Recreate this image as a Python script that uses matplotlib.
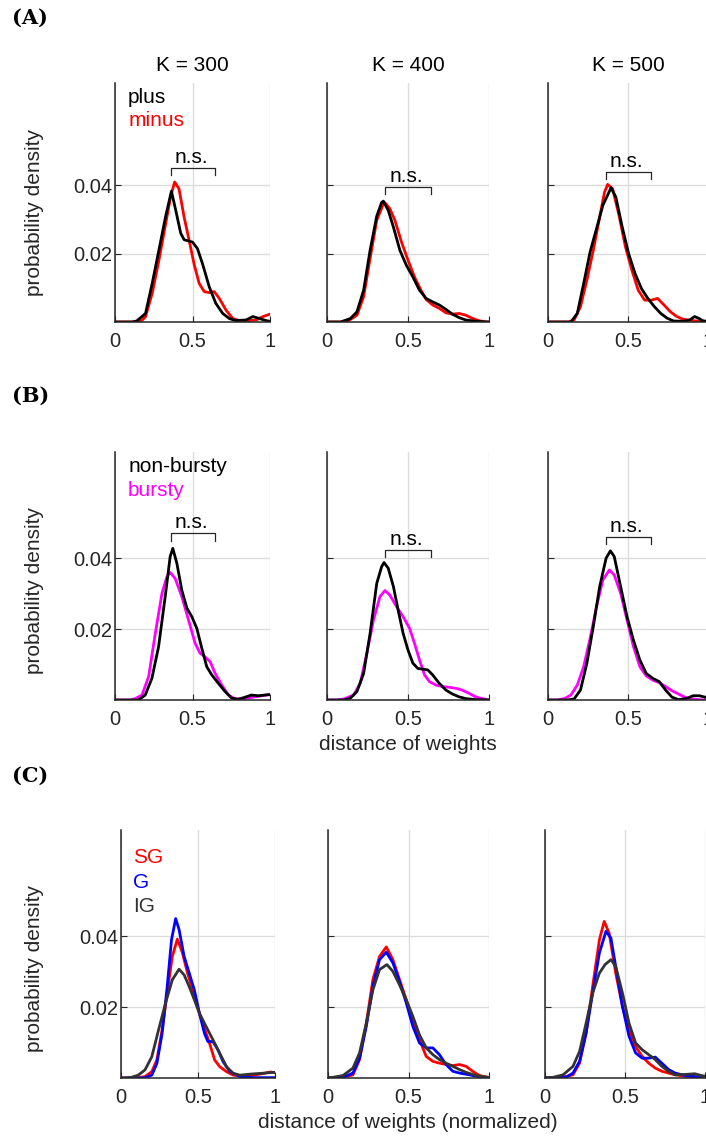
import matplotlib
matplotlib.use("Agg")
import matplotlib.pyplot as plt

plt.rcParams['font.family'] = ['Liberation Sans', 'DejaVu Sans']

# ---- data (distance, density) ----
a1_plus_x = [0, 0.11, 0.14, 0.197, 0.24, 0.283, 0.327, 0.364, 0.392, 0.424, 0.446, 0.5, 0.532, 0.565, 0.608, 0.65, 0.695, 0.738, 0.78, 0.846, 0.89, 0.933, 0.976, 1.0]
a1_plus_y = [0, 0, 0.0003, 0.0025, 0.0113, 0.021, 0.031, 0.0383, 0.0327, 0.026, 0.0241, 0.0234, 0.0215, 0.017, 0.0103, 0.0055, 0.0025, 0.001, 0.0004, 0.0006, 0.0016, 0.001, 0.0004, 0.0002]
a1_minus_x = [0, 0.14, 0.175, 0.197, 0.24, 0.283, 0.327, 0.36, 0.385, 0.413, 0.446, 0.478, 0.51, 0.543, 0.576, 0.608, 0.64, 0.673, 0.716, 0.76, 0.803, 0.846, 0.91, 0.955, 1.0]
a1_minus_y = [0, 0, 0.0005, 0.0016, 0.0084, 0.018, 0.0288, 0.037, 0.041, 0.039, 0.0307, 0.024, 0.017, 0.0113, 0.0089, 0.0086, 0.0089, 0.0069, 0.0035, 0.001, 0.0004, 0.0003, 0.0006, 0.0016, 0.0023]

a2_plus_x = [0, 0.083, 0.144, 0.185, 0.226, 0.266, 0.307, 0.337, 0.348, 0.378, 0.41, 0.45, 0.49, 0.53, 0.571, 0.612, 0.652, 0.693, 0.734, 0.774, 0.815, 0.856, 0.917, 1.0]
a2_plus_y = [0, 0, 0.001, 0.003, 0.0093, 0.021, 0.031, 0.035, 0.0354, 0.0327, 0.0278, 0.021, 0.0166, 0.0132, 0.0093, 0.0069, 0.0059, 0.005, 0.0037, 0.0023, 0.0013, 0.0006, 0.0002, 0]
a2_minus_x = [0, 0.12, 0.185, 0.226, 0.266, 0.307, 0.348, 0.358, 0.388, 0.419, 0.46, 0.5, 0.54, 0.58, 0.612, 0.652, 0.693, 0.734, 0.774, 0.815, 0.856, 0.896, 0.937, 0.978, 1.0]
a2_minus_y = [0, 0, 0.002, 0.0074, 0.0186, 0.0298, 0.0346, 0.0349, 0.0332, 0.0298, 0.0234, 0.0181, 0.0132, 0.0093, 0.0066, 0.005, 0.004, 0.0027, 0.0023, 0.0025, 0.002, 0.0011, 0.0004, 0, 0]

a3_plus_x = [0, 0.143, 0.183, 0.223, 0.263, 0.303, 0.343, 0.394, 0.424, 0.464, 0.504, 0.544, 0.584, 0.624, 0.665, 0.705, 0.745, 0.785, 0.845, 0.886, 0.916, 0.946, 0.966, 1.0]
a3_plus_y = [0, 0, 0.0025, 0.0113, 0.0205, 0.0273, 0.0342, 0.0393, 0.0366, 0.0278, 0.02, 0.0142, 0.0098, 0.0069, 0.0045, 0.0025, 0.0011, 0.0003, 0.0002, 0.0006, 0.0016, 0.001, 0.0004, 0.0001]
a3_minus_x = [0, 0.13, 0.163, 0.203, 0.243, 0.283, 0.323, 0.353, 0.373, 0.404, 0.444, 0.484, 0.524, 0.564, 0.604, 0.645, 0.685, 0.725, 0.765, 0.805, 0.845, 0.906, 0.95, 1.0]
a3_minus_y = [0, 0, 0.0006, 0.0045, 0.0123, 0.021, 0.0307, 0.038, 0.0403, 0.039, 0.0312, 0.022, 0.0152, 0.0093, 0.0064, 0.0064, 0.0069, 0.005, 0.003, 0.0016, 0.0008, 0.0004, 0.0002, 0.0001]

b1_non_x = [0, 0.152, 0.195, 0.238, 0.281, 0.324, 0.356, 0.373, 0.399, 0.431, 0.464, 0.496, 0.528, 0.56, 0.592, 0.624, 0.667, 0.71, 0.753, 0.796, 0.84, 0.88, 0.925, 0.99, 1.0]
b1_non_y = [0, 0, 0.0014, 0.0061, 0.015, 0.0292, 0.0405, 0.0428, 0.0386, 0.031, 0.0259, 0.0235, 0.0202, 0.0146, 0.0094, 0.0071, 0.0047, 0.0024, 0.0005, 0.0002, 0.0008, 0.0014, 0.0012, 0.0015, 0.0015]
b1_burst_x = [0, 0.1, 0.13, 0.174, 0.217, 0.26, 0.303, 0.335, 0.356, 0.388, 0.431, 0.474, 0.517, 0.549, 0.58, 0.614, 0.646, 0.689, 0.732, 0.775, 0.84, 0.903, 0.99, 1.0]
b1_burst_y = [0, 0, 0.0004, 0.0014, 0.0066, 0.0188, 0.0301, 0.0348, 0.036, 0.0343, 0.0292, 0.0226, 0.016, 0.0132, 0.0122, 0.0108, 0.0075, 0.0042, 0.0014, 0.0003, 0.0004, 0.0009, 0.0015, 0.0015]

b2_non_x = [0, 0.1, 0.144, 0.185, 0.226, 0.266, 0.307, 0.337, 0.352, 0.378, 0.41, 0.439, 0.47, 0.5, 0.53, 0.561, 0.591, 0.622, 0.652, 0.693, 0.734, 0.774, 0.815, 0.856, 0.917, 1.0]
b2_non_y = [0, 0, 0.0005, 0.0024, 0.0075, 0.0188, 0.0329, 0.0376, 0.0388, 0.0372, 0.032, 0.0254, 0.0188, 0.0141, 0.0104, 0.0089, 0.0087, 0.0085, 0.0071, 0.0047, 0.0028, 0.0017, 0.0009, 0.0004, 0.0001, 0]
b2_burst_x = [0, 0.06, 0.104, 0.165, 0.205, 0.246, 0.287, 0.327, 0.358, 0.388, 0.43, 0.47, 0.51, 0.54, 0.571, 0.602, 0.632, 0.673, 0.713, 0.754, 0.795, 0.835, 0.876, 0.917, 0.967, 1.0]
b2_burst_y = [0, 0, 0.0003, 0.0014, 0.0047, 0.0132, 0.0226, 0.0292, 0.0309, 0.0296, 0.0263, 0.0235, 0.0202, 0.016, 0.0113, 0.0071, 0.0052, 0.0042, 0.0038, 0.0036, 0.0033, 0.0028, 0.0019, 0.0009, 0.0003, 0]

b3_non_x = [0, 0.12, 0.163, 0.203, 0.243, 0.283, 0.323, 0.363, 0.39, 0.414, 0.454, 0.494, 0.534, 0.574, 0.614, 0.655, 0.695, 0.735, 0.775, 0.815, 0.866, 0.906, 0.946, 1.0]
b3_non_y = [0, 0, 0.0003, 0.0028, 0.0104, 0.0207, 0.032, 0.04, 0.0421, 0.0405, 0.032, 0.0235, 0.0169, 0.0113, 0.0075, 0.0061, 0.0052, 0.0028, 0.0008, 0.0001, 0.0004, 0.0012, 0.0012, 0.0006]
b3_burst_x = [0, 0.06, 0.102, 0.143, 0.183, 0.223, 0.263, 0.303, 0.343, 0.384, 0.414, 0.454, 0.494, 0.534, 0.574, 0.614, 0.655, 0.695, 0.735, 0.775, 0.815, 0.855, 0.906, 0.946, 1.0]
b3_burst_y = [0, 0, 0.0004, 0.0014, 0.0042, 0.0094, 0.0174, 0.0263, 0.0339, 0.0367, 0.0353, 0.0301, 0.0226, 0.0151, 0.0094, 0.0068, 0.0056, 0.0049, 0.0038, 0.0026, 0.0017, 0.0008, 0.0003, 0.0001, 0]

c1_sg_x = [0, 0.1, 0.156, 0.2, 0.233, 0.267, 0.3, 0.333, 0.366, 0.399, 0.432, 0.465, 0.509, 0.542, 0.575, 0.608, 0.641, 0.685, 0.729, 0.795, 0.861, 0.927, 0.971, 1.0]
c1_sg_y = [0, 0, 0.0004, 0.0018, 0.0051, 0.0136, 0.024, 0.0343, 0.0392, 0.0353, 0.0296, 0.0249, 0.0183, 0.014, 0.0098, 0.0051, 0.0032, 0.0018, 0.0008, 0.0006, 0.0008, 0.0013, 0.0017, 0.0015]
c1_g_x = [0, 0.12, 0.156, 0.2, 0.233, 0.267, 0.3, 0.328, 0.355, 0.377, 0.41, 0.443, 0.476, 0.509, 0.542, 0.564, 0.597, 0.63, 0.663, 0.707, 0.773, 0.861, 1.0]
c1_g_y = [0, 0, 0.0001, 0.0008, 0.0041, 0.0126, 0.0258, 0.039, 0.045, 0.0419, 0.0343, 0.0296, 0.0249, 0.0183, 0.0126, 0.0103, 0.0103, 0.0079, 0.0046, 0.0018, 0.0004, 0.0001, 0.0001]
c1_ig_x = [0, 0.03, 0.068, 0.112, 0.156, 0.2, 0.244, 0.289, 0.333, 0.377, 0.41, 0.443, 0.476, 0.509, 0.553, 0.597, 0.641, 0.685, 0.729, 0.773, 0.839, 0.905, 0.993, 1.0]
c1_ig_y = [0, 0, 0.0002, 0.0008, 0.0023, 0.006, 0.0136, 0.0211, 0.0277, 0.0307, 0.0291, 0.0258, 0.0221, 0.0183, 0.0145, 0.0108, 0.007, 0.0032, 0.0013, 0.0008, 0.0011, 0.0013, 0.0016, 0.0016]

c2_sg_x = [0, 0.093, 0.155, 0.196, 0.238, 0.279, 0.32, 0.362, 0.403, 0.444, 0.486, 0.527, 0.568, 0.61, 0.651, 0.692, 0.733, 0.775, 0.816, 0.857, 0.899, 0.94, 0.992, 1.0]
c2_sg_y = [0, 0.0002, 0.0009, 0.0052, 0.0155, 0.0278, 0.0343, 0.037, 0.0334, 0.0278, 0.0221, 0.0155, 0.0108, 0.0061, 0.0047, 0.0042, 0.0038, 0.0035, 0.0038, 0.0033, 0.0019, 0.0007, 0.0002, 0]
c2_g_x = [0, 0.093, 0.155, 0.196, 0.238, 0.279, 0.32, 0.362, 0.403, 0.444, 0.486, 0.527, 0.568, 0.61, 0.651, 0.692, 0.733, 0.775, 0.816, 0.878, 0.94, 1.0]
c2_g_y = [0, 0.0002, 0.0014, 0.0056, 0.0146, 0.0259, 0.0334, 0.0355, 0.0325, 0.0273, 0.0212, 0.0146, 0.0099, 0.0085, 0.0085, 0.0066, 0.0038, 0.0019, 0.0014, 0.0009, 0.0003, 0]
c2_ig_x = [0, 0.031, 0.093, 0.155, 0.196, 0.238, 0.279, 0.32, 0.366, 0.403, 0.444, 0.486, 0.527, 0.568, 0.61, 0.651, 0.692, 0.733, 0.775, 0.816, 0.857, 0.919, 0.992, 1.0]
c2_ig_y = [0, 0.0002, 0.0007, 0.0028, 0.0071, 0.0155, 0.0249, 0.0306, 0.032, 0.0301, 0.0263, 0.0221, 0.0174, 0.0122, 0.0085, 0.0066, 0.0052, 0.0042, 0.0033, 0.0024, 0.0016, 0.0007, 0.0002, 0.0001]

c3_sg_x = [0, 0.113, 0.175, 0.216, 0.257, 0.298, 0.34, 0.37, 0.401, 0.442, 0.484, 0.525, 0.566, 0.607, 0.648, 0.689, 0.73, 0.772, 0.813, 0.874, 0.957, 1.0]
c3_sg_y = [0, 0.0002, 0.0009, 0.0042, 0.0127, 0.0259, 0.039, 0.0442, 0.0409, 0.0296, 0.0202, 0.0136, 0.0089, 0.0061, 0.0042, 0.0028, 0.0019, 0.0014, 0.0009, 0.0005, 0.0002, 0.0001]
c3_g_x = [0, 0.134, 0.175, 0.216, 0.257, 0.298, 0.34, 0.381, 0.412, 0.442, 0.484, 0.525, 0.566, 0.607, 0.648, 0.689, 0.73, 0.772, 0.813, 0.874, 0.957, 1.0]
c3_g_y = [0, 0.0003, 0.0014, 0.0047, 0.0127, 0.024, 0.0353, 0.0414, 0.0395, 0.0315, 0.0202, 0.0118, 0.0071, 0.0056, 0.0056, 0.0059, 0.0042, 0.0024, 0.0014, 0.0007, 0.0003, 0.0001]
c3_ig_x = [0, 0.051, 0.113, 0.175, 0.216, 0.257, 0.298, 0.34, 0.375, 0.412, 0.442, 0.484, 0.525, 0.566, 0.607, 0.648, 0.689, 0.73, 0.772, 0.813, 0.874, 0.936, 0.977, 1.0]
c3_ig_y = [0, 0.0002, 0.0009, 0.0033, 0.0075, 0.0155, 0.024, 0.0296, 0.032, 0.0334, 0.0315, 0.024, 0.0155, 0.0099, 0.008, 0.0066, 0.0052, 0.0033, 0.0019, 0.0009, 0.001, 0.0012, 0.0007, 0.0005]

k_titles = ['K = 300', 'K = 400', 'K = 500']
row_a_bracket = [0.045, 0.0394, 0.0439]
row_b_bracket = [0.047, 0.0423, 0.0459]
bracket_span = [0.36, 0.645]

# ---- layout helpers (pixels of the 706x1138 canvas) ----
W, H = 706, 1138
fig = plt.figure(figsize=(W / 100, H / 100), dpi=100)

dark = '#262626'


def make_ax(left, top, width, height, ylabels=True):
    ax = fig.add_axes([left / W, 1 - (top + height) / H, width / W, height / H])
    ax.set_xlim(0, 1.0)
    ax.set_ylim(0, 0.07)
    ax.set_xticks([0, 0.5, 1])
    ax.set_xticklabels(['0', '0.5', '1'])
    ax.set_yticks([0.02, 0.04])
    ax.set_yticklabels(['0.02', '0.04'] if ylabels else [])
    for s in ['top', 'right']:
        ax.spines[s].set_visible(False)
    for s in ['left', 'bottom']:
        ax.spines[s].set_color(dark)
        ax.spines[s].set_linewidth(1.1)
    ax.tick_params(direction='in', length=4, width=0.8, color=dark,
                   labelcolor=dark, labelsize=14.5)
    ax.tick_params(axis='x', pad=7)
    ax.tick_params(axis='y', pad=2)
    ax.grid(True, color='#dcdcdc', linewidth=1.0)
    ax.set_axisbelow(True)
    return ax


def bracket(ax, y):
    x0, x1 = bracket_span
    ax.plot([x0, x0, x1, x1], [y - 0.002, y, y, y - 0.002], color=dark,
            linewidth=0.9, clip_on=False)
    ax.text(0.49, y + 0.0003, 'n.s.', ha='center', va='bottom',
            fontsize=15, color='black')


lw = 2.0
row_a_left = [(115, 155), (327, 162), (548, 160)]
row_c_left = [(121, 154), (328, 161), (545, 160)]

# ---- row A ----
a_data = [(a1_plus_x, a1_plus_y, a1_minus_x, a1_minus_y),
          (a2_plus_x, a2_plus_y, a2_minus_x, a2_minus_y),
          (a3_plus_x, a3_plus_y, a3_minus_x, a3_minus_y)]
for i, (px, py, mx, my) in enumerate(a_data):
    l, w = row_a_left[i]
    ax = make_ax(l, 83, w, 239, ylabels=(i == 0))
    ax.plot(mx, my, color='#ff0000', linewidth=lw)
    ax.plot(px, py, color='black', linewidth=lw)
    bracket(ax, row_a_bracket[i])
    ax.text(0.5, 1.035, k_titles[i], transform=ax.get_xaxis_transform(),
            ha='center', va='bottom', fontsize=15, color='black')
    if i == 0:
        ax.text(0.085, 0.94, 'plus', transform=ax.transAxes, fontsize=15,
                color='black', va='center')
        ax.text(0.085, 0.845, 'minus', transform=ax.transAxes, fontsize=15,
                color='#ff0000', va='center')

# ---- row B ----
b_data = [(b1_non_x, b1_non_y, b1_burst_x, b1_burst_y),
          (b2_non_x, b2_non_y, b2_burst_x, b2_burst_y),
          (b3_non_x, b3_non_y, b3_burst_x, b3_burst_y)]
for i, (nx, ny, bx, by) in enumerate(b_data):
    l, w = row_a_left[i]
    ax = make_ax(l, 452, w, 248, ylabels=(i == 0))
    ax.plot(bx, by, color='#ff00ff', linewidth=lw)
    ax.plot(nx, ny, color='black', linewidth=lw)
    bracket(ax, row_b_bracket[i])
    if i == 0:
        ax.text(0.085, 0.94, 'non-bursty', transform=ax.transAxes, fontsize=15,
                color='black', va='center')
        ax.text(0.085, 0.843, 'bursty', transform=ax.transAxes, fontsize=15,
                color='#ff00ff', va='center')

# ---- row C ----
c_data = [(c1_sg_x, c1_sg_y, c1_g_x, c1_g_y, c1_ig_x, c1_ig_y),
          (c2_sg_x, c2_sg_y, c2_g_x, c2_g_y, c2_ig_x, c2_ig_y),
          (c3_sg_x, c3_sg_y, c3_g_x, c3_g_y, c3_ig_x, c3_ig_y)]
for i, (sx, sy, gx, gy, ix, iy) in enumerate(c_data):
    l, w = row_c_left[i]
    ax = make_ax(l, 830, w, 248, ylabels=(i == 0))
    ax.plot(sx, sy, color='#ff0000', linewidth=lw)
    ax.plot(gx, gy, color='#0000ff', linewidth=lw)
    ax.plot(ix, iy, color='#333333', linewidth=lw)
    if i == 0:
        ax.text(0.078, 0.89, 'SG', transform=ax.transAxes, fontsize=15,
                color='#ff0000', va='center')
        ax.text(0.078, 0.79, 'G', transform=ax.transAxes, fontsize=15,
                color='#0000ff', va='center')
        ax.text(0.078, 0.69, 'IG', transform=ax.transAxes, fontsize=15,
                color='#333333', va='center')

# ---- shared labels ----
for yc in [213, 590, 969]:
    fig.text(35 / W, 1 - yc / H, 'probability density', rotation=90,
             ha='center', va='center', fontsize=15, color=dark)
fig.text(408 / W, 1 - 745 / H, 'distance of weights', ha='center',
         va='center', fontsize=15, color=dark)
fig.text(408 / W, 1 - 1122 / H, 'distance of weights (normalized)',
         ha='center', va='center', fontsize=15, color=dark)

for lab, yc in [('(A)', 18), ('(B)', 396), ('(C)', 776)]:
    fig.text(12 / W, 1 - yc / H, lab, ha='left', va='center', fontsize=15,
             fontweight='bold', family='DejaVu Serif')

fig.savefig('out.png', dpi=100)
